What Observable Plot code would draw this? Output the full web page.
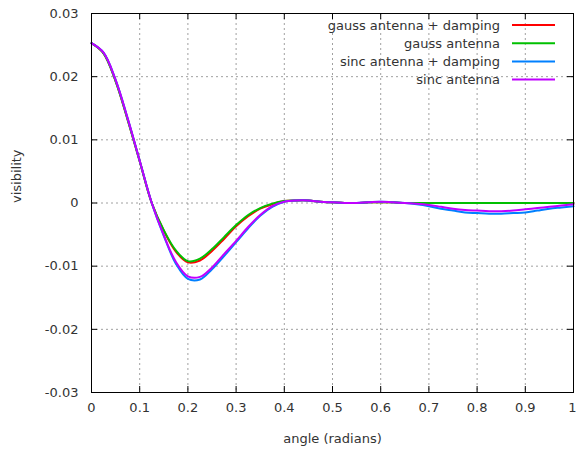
<!DOCTYPE html>
<html>
<head>
<meta charset="utf-8">
<script src="https://cdn.jsdelivr.net/npm/d3@7"></script>
<script src="https://cdn.jsdelivr.net/npm/@observablehq/plot@0.6"></script>
<style>
  html, body { margin: 0; padding: 0; background: #fff; }
  #chart { position: relative; width: 576px; height: 450px; }
</style>
</head>
<body>
<div id="chart"></div>
<script>
const angle = [0, 0.025, 0.05, 0.075, 0.1, 0.125, 0.15, 0.175, 0.2, 0.225, 0.25, 0.275, 0.3, 0.325, 0.35, 0.375, 0.4, 0.425, 0.45, 0.475, 0.5, 0.525, 0.55, 0.575, 0.6, 0.625, 0.65, 0.675, 0.7, 0.725, 0.75, 0.775, 0.8, 0.825, 0.85, 0.875, 0.9, 0.925, 0.95, 0.975, 1];

const gaussDamping = [0.0253, 0.0237, 0.0193, 0.0132, 0.0066, 0.0000, -0.0044, -0.0077, -0.0094, -0.0091, -0.0076, -0.0057, -0.0037, -0.0021, -0.0009, -0.0002, 0.0003, 0.0004, 0.0004, 0.0002, 0.0001, 0.0000, 0.0000, 0.0001, 0.0001, 0.0001, 0.0000, 0, 0, 0, 0, 0, 0, 0, 0, 0, 0, 0, 0, 0, 0];

const gauss = [0.0253, 0.0237, 0.0193, 0.0132, 0.0066, 0.0000, -0.0043, -0.0075, -0.0092, -0.0088, -0.0073, -0.0054, -0.0035, -0.0019, -0.0008, -0.0001, 0.0003, 0.0004, 0.0004, 0.0002, 0.0001, 0.0000, 0.0000, 0.0001, 0.0001, 0.0001, 0.0000, 0, 0, 0, 0, 0, 0, 0, 0, 0, 0, 0, 0, 0, 0];

const sincDamping = [0.0253, 0.0238, 0.0195, 0.0134, 0.0067, 0.0000, -0.0052, -0.0096, -0.0120, -0.0121, -0.0105, -0.0084, -0.0062, -0.0040, -0.0020, -0.0006, 0.0002, 0.0004, 0.0004, 0.0002, 0.0001, 0.0000, 0.0000, 0.0001, 0.0002, 0.0001, 0.0000, -0.0002, -0.0005, -0.0009, -0.0012, -0.0015, -0.0016, -0.0017, -0.0017, -0.0016, -0.0015, -0.0012, -0.0009, -0.0007, -0.0005];

const sinc = [0.0253, 0.0238, 0.0195, 0.0134, 0.0067, 0.0000, -0.0051, -0.0093, -0.0116, -0.0117, -0.0102, -0.0081, -0.0060, -0.0038, -0.0019, -0.0005, 0.0002, 0.0004, 0.0004, 0.0002, 0.0001, 0.0000, 0.0000, 0.0001, 0.0002, 0.0001, 0.0000, -0.0001, -0.0003, -0.0006, -0.0009, -0.0011, -0.0012, -0.0013, -0.0013, -0.0012, -0.0010, -0.0008, -0.0006, -0.0004, -0.0002];

const seriesNames = ["gauss antenna + damping", "gauss antenna", "sinc antenna + damping", "sinc antenna"];
const seriesValues = [gaussDamping, gauss, sincDamping, sinc];

const xTicks = [0, 0.1, 0.2, 0.3, 0.4, 0.5, 0.6, 0.7, 0.8, 0.9, 1];
const xTickLabels = ["0", "0.1", "0.2", "0.3", "0.4", "0.5", "0.6", "0.7", "0.8", "0.9", "1"];
const yTicks = [-0.03, -0.02, -0.01, 0, 0.01, 0.02, 0.03];
const yTickLabels = ["-0.03", "-0.02", "-0.01", "0", "0.01", "0.02", "0.03"];

const xTitle = "angle (radians)";
const yTitle = "visibility";

// styling
const colors = ["#ff0000", "#00c000", "#0080ff", "#c000ff"];
const FONT = "DejaVu Sans, sans-serif";
const FS = 13;
const TEXT = "#333";

const W = 576, H = 450;
const mL = 91, mR = 3, mT = 13, mB = 58;
const pw = W - mL - mR, ph = H - mT - mB;
const tick = 6;

const data = [];
seriesNames.forEach((name, s) => {
  angle.forEach((a, i) => data.push({angle: a, value: seriesValues[s][i], series: name}));
});

const xFmt = d => xTickLabels[xTicks.findIndex(t => Math.abs(t - d) < 1e-9)];
const yFmt = d => yTickLabels[yTicks.findIndex(t => Math.abs(t - d) < 1e-9)];

const grid = {stroke: "#a0a0a0", strokeOpacity: 1, strokeDasharray: "2,3", strokeWidth: 1};

const svg = Plot.plot({
  width: W, height: H,
  marginLeft: mL, marginRight: mR, marginTop: mT, marginBottom: mB,
  style: {fontFamily: FONT, fontSize: FS + "px", color: TEXT, background: "#fff"},
  x: {domain: [0, 1]},
  y: {domain: [-0.03, 0.03]},
  color: {domain: seriesNames, range: colors},
  marks: [
    Plot.gridX(xTicks.slice(1, -1), grid),
    Plot.gridY(yTicks.slice(1, -1), grid),
    // inward ticks on all four sides
    Plot.tickX(xTicks, {x: d => d, stroke: "#000", insetTop: ph - tick}),
    Plot.tickX(xTicks, {x: d => d, stroke: "#000", insetBottom: ph - tick}),
    Plot.tickY(yTicks, {y: d => d, stroke: "#000", insetRight: pw - tick}),
    Plot.tickY(yTicks, {y: d => d, stroke: "#000", insetLeft: pw - tick}),
    Plot.axisX(xTicks.slice(0, -1), {tickSize: 0, tickPadding: 10, tickFormat: xFmt, label: null, fill: TEXT, fontSize: FS}),
    // last x label kept inside the canvas edge
    Plot.text(xTicks.slice(-1), {x: d => d, text: d => xFmt(d), frameAnchor: "bottom", lineAnchor: "top", dy: 10, dx: 3, textAnchor: "end", fill: TEXT, fontSize: FS}),
    Plot.axisY(yTicks, {tickSize: 0, tickPadding: 13, tickFormat: yFmt, label: null, fill: TEXT, fontSize: FS}),
    Plot.text([xTitle], {frameAnchor: "bottom", dy: 46, lineAnchor: "middle", fill: TEXT, fontSize: FS}),
    Plot.text([yTitle], {frameAnchor: "left", dx: -75, rotate: -90, lineAnchor: "middle", fill: TEXT, fontSize: FS}),
    Plot.line(data, {x: "angle", y: "value", z: "series", stroke: "series", strokeWidth: 2, curve: "catmull-rom"}),
    Plot.frame({stroke: "#000", strokeWidth: 1})
  ]
});

// legend (key box inside top-right, gnuplot style)
const g = d3.select(svg).append("g").attr("class", "legend");
seriesNames.forEach((name, i) => {
  const y = 25 + i * 18.2;
  g.append("text").attr("x", 500).attr("y", y).attr("dy", "0.35em")
    .attr("text-anchor", "end").attr("fill", TEXT)
    .style("font-family", FONT).style("font-size", FS + "px").text(name);
  g.append("line").attr("x1", 512).attr("x2", 555).attr("y1", y).attr("y2", y)
    .attr("stroke", colors[i]).attr("stroke-width", 2);
});

document.getElementById("chart").appendChild(svg);
</script>
</body>
</html>
